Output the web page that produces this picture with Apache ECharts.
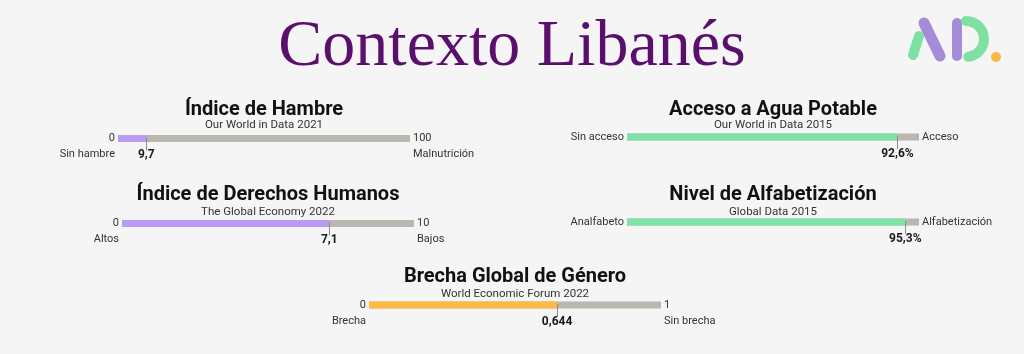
<!DOCTYPE html>
<html>
<head>
<meta charset="utf-8">
<script src="https://cdn.jsdelivr.net/npm/echarts@6/dist/echarts.min.js"></script>
<style>
  html, body { margin: 0; padding: 0; background: #f5f5f5; }
  #chart { width: 1024px; height: 354px; }
</style>
</head>
<body>
<div id="chart"></div>
<script>
const mainTitle = 'Contexto Libanés';
const panelTitles = ['Índice de Hambre', 'Acceso a Agua Potable', 'Índice de Derechos Humanos', 'Nivel de Alfabetización', 'Brecha Global de Género'];
const panelSources = ['Our World in Data 2021', 'Our World in Data 2015', 'The Global Economy 2022', 'Global Data 2015', 'World Economic Forum 2022'];
const values = [9.7, 92.6, 7.1, 95.3, 0.644];
const maxValues = [100, 100, 10, 100, 1];
const valueLabels = ['9,7', '92,6%', '7,1', '95,3%', '0,644'];
const startTicks = ['0', '', '0', '', '0'];
const startNames = ['Sin hambre', 'Sin acceso', 'Altos', 'Analfabeto', 'Brecha'];
const endTicks = ['100', '', '10', '', '1'];
const endNames = ['Malnutrición', 'Acceso', 'Bajos', 'Alfabetización', 'Sin brecha'];

// layout of each panel (bar left edge, bar center line, title line)
const layout = [
  { left: 118, cy: 138.5, titleY: 110, subY: 125 },
  { left: 627, cy: 137, titleY: 110, subY: 125 },
  { left: 122, cy: 223.5, titleY: 195, subY: 212 },
  { left: 627, cy: 222, titleY: 195, subY: 212 },
  { left: 369, cy: 305, titleY: 277, subY: 294 }
];
const barLen = 292;
const fills = ['#b99cf2', '#7de3a6', '#b99cf2', '#7de3a6', '#fdba45'];
const trackColor = '#bab6b0';
const labelColor = '#333';

const chart = echarts.init(document.getElementById('chart'));

const grids = [], xAxes = [], yAxes = [], series = [], graphics = [];

layout.forEach((l, i) => {
  grids.push({ left: l.left, top: l.cy - 15, width: barLen, height: 30 });
  xAxes.push({ type: 'value', gridIndex: i, min: 0, max: maxValues[i], show: false });
  yAxes.push({ type: 'category', gridIndex: i, data: ['v'], show: false });
  series.push({
    type: 'bar', xAxisIndex: i, yAxisIndex: i, data: [maxValues[i]], barWidth: 7,
    itemStyle: { color: trackColor }, silent: true, z: 1
  });
  series.push({
    type: 'bar', xAxisIndex: i, yAxisIndex: i, data: [values[i]], barWidth: 7, barGap: '-100%',
    itemStyle: { color: fills[i] }, silent: true, z: 2
  });
  series.push({
    type: 'custom', xAxisIndex: i, yAxisIndex: i, data: [[values[i], 0]], z: 3, silent: true,
    renderItem: (params, api) => {
      const p = api.coord([api.value(0), api.value(1)]);
      return {
        type: 'group',
        children: [
          { type: 'line', shape: { x1: Math.round(p[0]) + 0.5, y1: p[1] - 1, x2: Math.round(p[0]) + 0.5, y2: p[1] + 12 },
            style: { stroke: '#8c8c8c', lineWidth: 1 } },
          { type: 'text', style: { text: valueLabels[i], x: p[0], y: p[1] + 16.5, align: 'center', verticalAlign: 'middle',
            font: 'bold 12px Roboto', fill: '#1a1a1a' } }
        ]
      };
    }
  });

  const cx = l.left + barLen / 2;
  graphics.push({ type: 'text', style: { text: panelTitles[i], x: cx, y: l.titleY, align: 'center', verticalAlign: 'middle', font: 'bold 20px Roboto', fill: '#111' } });
  graphics.push({ type: 'text', style: { text: panelSources[i], x: cx, y: l.subY, align: 'center', verticalAlign: 'middle', font: '11.5px Roboto', fill: '#333' } });

  const leftX = l.left - 3, rightX = l.left + barLen + 3;
  if (startTicks[i]) {
    graphics.push({ type: 'text', style: { text: startTicks[i], x: leftX, y: l.cy, align: 'right', verticalAlign: 'middle', font: '11px Roboto', fill: labelColor } });
    graphics.push({ type: 'text', style: { text: startNames[i], x: leftX, y: l.cy + 16, align: 'right', verticalAlign: 'middle', font: '11px Roboto', fill: labelColor } });
  } else {
    graphics.push({ type: 'text', style: { text: startNames[i], x: leftX, y: l.cy, align: 'right', verticalAlign: 'middle', font: '11px Roboto', fill: labelColor } });
  }
  if (endTicks[i]) {
    graphics.push({ type: 'text', style: { text: endTicks[i], x: rightX, y: l.cy, align: 'left', verticalAlign: 'middle', font: '11px Roboto', fill: labelColor } });
    graphics.push({ type: 'text', style: { text: endNames[i], x: rightX, y: l.cy + 16, align: 'left', verticalAlign: 'middle', font: '11px Roboto', fill: labelColor } });
  } else {
    graphics.push({ type: 'text', style: { text: endNames[i], x: rightX, y: l.cy, align: 'left', verticalAlign: 'middle', font: '11px Roboto', fill: labelColor } });
  }
});

// main title
graphics.push({ type: 'text', style: { text: mainTitle, x: 512, y: 48, align: 'center', verticalAlign: 'middle', font: '66px "Liberation Serif"', fill: '#5b0f6d' } });

// logo "AD."
const lp = '#a68bd9', lg = '#7fe0a3', lo = '#fbb845';
graphics.push(
  { type: 'line', shape: { x1: 924, y1: 23, x2: 940, y2: 56 }, style: { stroke: lp, lineWidth: 11, lineCap: 'round' } },
  { type: 'line', shape: { x1: 919, y1: 36, x2: 913, y2: 55 }, style: { stroke: lg, lineWidth: 10, lineCap: 'round' } },
  { type: 'line', shape: { x1: 957, y1: 23, x2: 957, y2: 56 }, style: { stroke: lp, lineWidth: 10, lineCap: 'round' } },
  { type: 'arc', shape: { cx: 966, cy: 39, r: 18, startAngle: -Math.PI / 2, endAngle: 1.45, clockwise: true },
    style: { stroke: lg, lineWidth: 10, lineCap: 'round', fill: 'none' } },
  { type: 'circle', shape: { cx: 996, cy: 57, r: 5 }, style: { fill: lo } }
);

chart.setOption({
  backgroundColor: '#f5f5f5',
  animation: false,
  grid: grids,
  xAxis: xAxes,
  yAxis: yAxes,
  series: series,
  graphic: graphics
});
</script>
</body>
</html>
